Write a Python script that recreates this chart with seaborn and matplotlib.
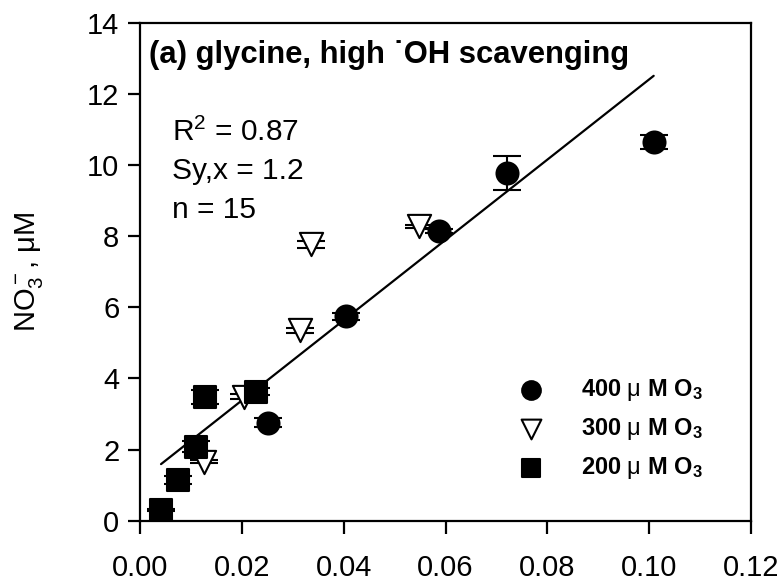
import numpy as np
import pandas as pd
import matplotlib
matplotlib.use("Agg")
import matplotlib.pyplot as plt
import seaborn as sns

# ---- data ----
x_400 = [0.0251, 0.0404, 0.0588, 0.0720, 0.1009]
y_400 = [2.76, 5.75, 8.14, 9.78, 10.65]
e_400 = [0.12, 0.10, 0.06, 0.49, 0.20]

x_300 = [0.0126, 0.0205, 0.0315, 0.0335, 0.0548]
y_300 = [1.66, 3.49, 5.35, 7.77, 8.28]
e_300 = [0.04, 0.06, 0.07, 0.10, 0.05]

x_200 = [0.0041, 0.0074, 0.0110, 0.0128, 0.0228]
y_200 = [0.30, 1.15, 2.08, 3.47, 3.63]
e_200 = [0.03, 0.12, 0.15, 0.20, 0.10]

series_labels = [r"400 $\mu$ M O$_\mathbf{3}$",
                 r"300 $\mu$ M O$_\mathbf{3}$",
                 r"200 $\mu$ M O$_\mathbf{3}$"]
x_ticks = [0.00, 0.02, 0.04, 0.06, 0.08, 0.10, 0.12]
y_ticks = [0, 2, 4, 6, 8, 10, 12, 14]
title_text = "(a) glycine, high \u02d9OH scavenging"
stats_lines = [r"R$^2$ = 0.87", "Sy,x = 1.2", "n = 15"]

df = pd.DataFrame({
    "x": x_400 + x_300 + x_200,
    "y": y_400 + y_300 + y_200,
    "err": e_400 + e_300 + e_200,
    "group": [series_labels[0]] * len(x_400) + [series_labels[1]] * len(x_300)
             + [series_labels[2]] * len(x_200),
})

sns.set_style("ticks")
plt.rcParams["font.family"] = ["Liberation Sans", "DejaVu Sans"]
plt.rcParams["mathtext.fontset"] = "custom"
plt.rcParams["mathtext.rm"] = "Liberation Sans"
plt.rcParams["mathtext.it"] = "Liberation Sans"
plt.rcParams["mathtext.bf"] = "Liberation Sans:bold"
for k in ["text.color", "axes.labelcolor", "xtick.color", "ytick.color", "axes.edgecolor"]:
    plt.rcParams[k] = "black"

fig = plt.figure(figsize=(7.83, 5.88), dpi=100)
ax = fig.add_axes([0.179, 0.1145, 0.780, 0.8465])

# regression line from the data
sns.regplot(data=df, x="x", y="y", scatter=False, ci=None, truncate=True,
            color="black", line_kws={"lw": 1.6}, ax=ax)

# error bars
for xs, ys, es in [(x_400, y_400, e_400), (x_300, y_300, e_300), (x_200, y_200, e_200)]:
    ax.errorbar(xs, ys, yerr=es, fmt="none", ecolor="black", elinewidth=1.5,
                capsize=10, capthick=1.5, zorder=2)

markers = {series_labels[0]: "o", series_labels[1]: "v", series_labels[2]: "s"}
sizes = {series_labels[0]: 250, series_labels[1]: 280, series_labels[2]: 250}
for lab in series_labels:
    sub = df[df["group"] == lab]
    fc = "white" if markers[lab] == "v" else "black"
    sns.scatterplot(data=sub, x="x", y="y", marker=markers[lab], s=sizes[lab],
                    color=fc, edgecolor="black", linewidth=1.5, ax=ax,
                    label=lab, zorder=3)

ax.set_xlim(0, 0.12)
ax.set_ylim(0, 14)
ax.set_xticks(x_ticks)
ax.set_xticklabels([f"{v:.2f}" for v in x_ticks])
ax.set_yticks(y_ticks)
ax.tick_params(axis="both", direction="out", length=9, width=1.6, labelsize=21,
               pad=6, colors="black")
ax.tick_params(axis="x", pad=15)
for sp in ax.spines.values():
    sp.set_visible(True)
    sp.set_linewidth(1.6)
    sp.set_color("black")
ax.set_xlabel("")
ax.set_ylabel(r"NO$_3^-$, $\mu$M", fontsize=21, labelpad=30)

ax.text(0.014, 0.935, title_text, transform=ax.transAxes, fontsize=22.3,
        fontweight="bold", va="center", ha="left")
for i, s in enumerate(stats_lines):
    ax.text(0.052, 0.78 - i * 0.078, s, transform=ax.transAxes, fontsize=21.5,
            va="center", ha="left")

leg = ax.legend(loc="lower right", bbox_to_anchor=(0.955, 0.037), frameon=False,
                prop={"size": 17, "weight": "bold"}, handletextpad=1.1,
                labelspacing=0.55, markerscale=0.85)

fig.savefig("out.png", dpi=100)
